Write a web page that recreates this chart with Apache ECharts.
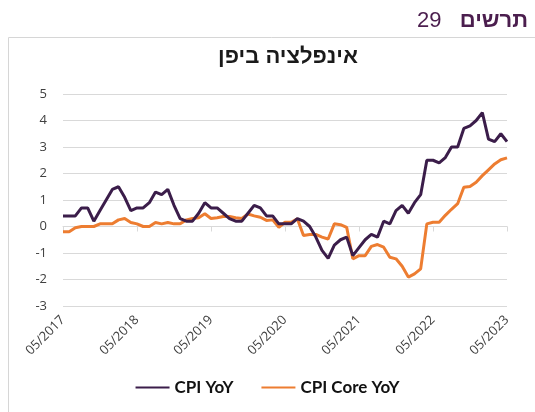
<!DOCTYPE html>
<html>
<head>
<meta charset="utf-8">
<script src="https://cdn.jsdelivr.net/npm/echarts@6/dist/echarts.min.js"></script>
<style>
  html, body { margin: 0; padding: 0; background: #fff; }
  #chart { width: 535px; height: 412px; }
</style>
</head>
<body>
<div id="chart"></div>
<script>
// monthly, 05/2017 .. 05/2023
var months = [];
for (var y = 2017; y <= 2023; y++) {
  for (var m = 1; m <= 12; m++) {
    if ((y === 2017 && m < 5) || (y === 2023 && m > 5)) continue;
    months.push((m < 10 ? '0' + m : '' + m) + '/' + y);
  }
}

var cpiYoy = [
  0.4, 0.4, 0.4, 0.7, 0.7, 0.2, 0.6, 1.0,
  1.4, 1.5, 1.1, 0.6, 0.7, 0.7, 0.9, 1.3, 1.2, 1.4, 0.8, 0.3,
  0.2, 0.2, 0.5, 0.9, 0.7, 0.7, 0.5, 0.3, 0.2, 0.2, 0.5, 0.8,
  0.7, 0.4, 0.4, 0.1, 0.1, 0.1, 0.3, 0.2, 0.0, -0.4, -0.9, -1.2,
  -0.7, -0.5, -0.4, -1.1, -0.8, -0.5, -0.3, -0.4, 0.2, 0.1, 0.6, 0.8,
  0.5, 0.9, 1.2, 2.5, 2.5, 2.4, 2.6, 3.0, 3.0, 3.7, 3.8, 4.0,
  4.3, 3.3, 3.2, 3.5, 3.2
];

var cpiCoreYoy = [
  -0.2, -0.2, -0.05, 0.0, 0.0, 0.0, 0.1, 0.1,
  0.1, 0.25, 0.3, 0.15, 0.1, 0.0, 0.0, 0.15, 0.1, 0.15, 0.1, 0.1,
  0.25, 0.3, 0.33, 0.48, 0.3, 0.33, 0.38, 0.38, 0.33, 0.3, 0.47, 0.4,
  0.35, 0.23, 0.25, -0.03, 0.16, 0.16, 0.29, -0.34, -0.3, -0.3, -0.4, -0.47,
  0.1, 0.07, -0.03, -1.22, -1.1, -1.1, -0.75, -0.68, -0.78, -1.16, -1.22, -1.5,
  -1.91, -1.79, -1.6, 0.1, 0.16, 0.16, 0.42, 0.65, 0.86, 1.48, 1.51, 1.67,
  1.92, 2.14, 2.36, 2.52, 2.59
];

var seriesNames = ['CPI YoY', 'CPI Core YoY'];
var colors = ['#3b1d4a', '#ed7d31'];

var chart = echarts.init(document.getElementById('chart'));
chart.setOption({
  animation: false,
  textStyle: { fontFamily: 'Lato, "Noto Sans", sans-serif' },
  title: [
    {
      text: '{n|29   }{b|תרשים}',
      right: 2,
      top: 5,
      textStyle: {
        rich: {
          n: { fontSize: 22, fontWeight: 'normal', color: '#4b1e4e', fontFamily: '"Liberation Sans", Arial, sans-serif' },
          b: { fontSize: 22, fontWeight: 'bold', color: '#4b1e4e', fontFamily: '"Liberation Sans", Arial, sans-serif' }
        }
      }
    },
    {
      text: 'אינפלציה ביפן',
      left: 283,
      textAlign: 'center',
      top: 41,
      textStyle: { fontSize: 22, fontWeight: 'bold', color: '#1a1a1a', fontFamily: '"Liberation Sans", Arial, sans-serif' }
    }
  ],
  graphic: [
    {
      type: 'polyline',
      shape: { points: [[8.5, 412], [8.5, 37.5], [535, 37.5]] },
      style: { stroke: '#d6d6d6', lineWidth: 1, fill: null }
    }
  ],
  legend: {
    data: seriesNames,
    bottom: 11,
    left: 'center',
    icon: 'rect',
    itemWidth: 34,
    itemHeight: 2,
    itemGap: 28,
    textStyle: { fontSize: 17, fontWeight: 'bold', color: '#111', fontFamily: 'Lato, "Open Sans", sans-serif' }
  },
  grid: { left: 63, right: 28, top: 94, bottom: 106 },
  xAxis: [
    {
      type: 'category',
      data: months,
      boundaryGap: false,
      axisLine: { show: false, onZero: false },
      axisTick: { show: false },
      splitLine: { show: false },
      axisLabel: {
        interval: 11,
        rotate: 45,
        margin: 12,
        fontSize: 13,
        color: '#404040',
        fontFamily: '"Open Sans", "Noto Sans", sans-serif',
        showMaxLabel: true
      }
    },
    {
      type: 'category',
      data: months,
      position: 'bottom',
      boundaryGap: false,
      axisLine: { show: true, onZero: true, lineStyle: { color: '#d9d9d9', width: 1 } },
      axisTick: { show: true, interval: 11, length: 5, lineStyle: { color: '#d9d9d9' } },
      axisLabel: { show: false },
      splitLine: { show: false }
    }
  ],
  yAxis: {
    type: 'value',
    min: -3,
    max: 5,
    interval: 1,
    axisLine: { show: false },
    axisTick: { show: false },
    axisLabel: { fontSize: 13, color: '#404040', margin: 16, fontFamily: '"Open Sans", "Noto Sans", sans-serif' },
    splitLine: { lineStyle: { color: '#d9d9d9', width: 1 } }
  },
  series: [
    {
      name: seriesNames[0],
      type: 'line',
      data: cpiYoy,
      symbol: 'none',
      z: 3,
      lineStyle: { color: colors[0], width: 3 },
      itemStyle: { color: colors[0] }
    },
    {
      name: seriesNames[1],
      type: 'line',
      data: cpiCoreYoy,
      symbol: 'none',
      z: 2,
      lineStyle: { color: colors[1], width: 3 },
      itemStyle: { color: colors[1] }
    }
  ]
});
</script>
</body>
</html>
